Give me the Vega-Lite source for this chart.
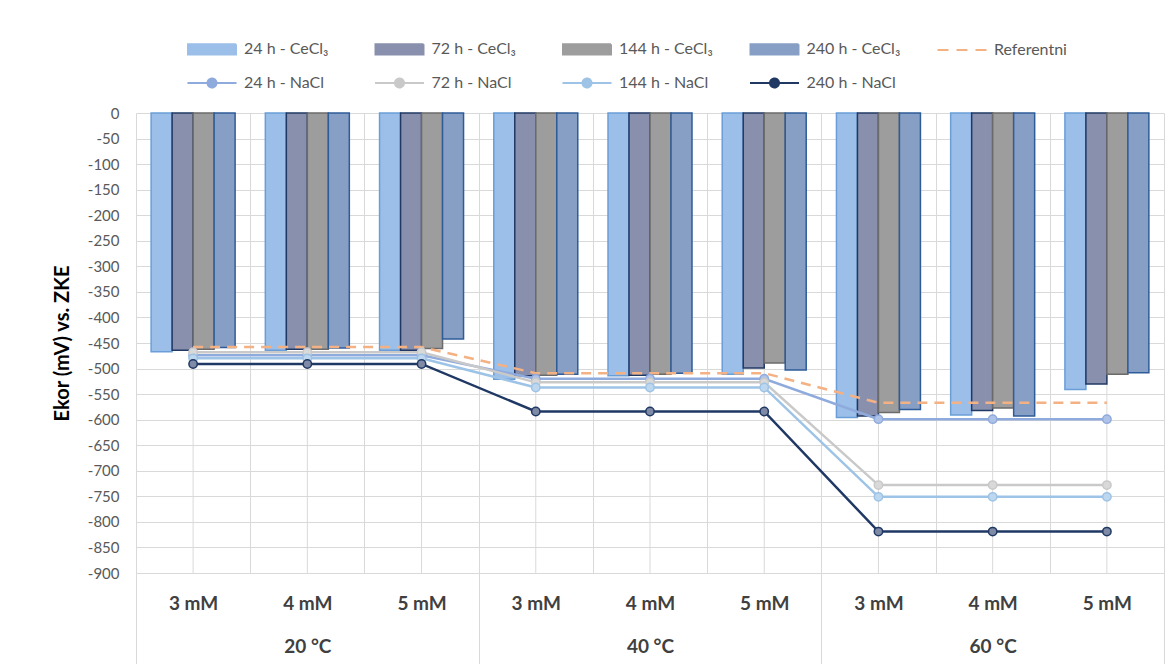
{
  "$schema": "https://vega.github.io/schema/vega-lite/v6.json",
  "width": 1028,
  "height": 460,
  "autosize": {"type": "none"},
  "padding": {"left": 136, "top": 113, "right": 9, "bottom": 91},
  "background": "white",
  "config": {"view": {"stroke": null}, "font": "Lato"},
  "data": {"values": [
    {"cat": "20 °C|3 mM", "series": "24 h - CeCl₃", "kind": "bar", "value": -467},
    {"cat": "20 °C|3 mM", "series": "72 h - CeCl₃", "kind": "bar", "value": -464},
    {"cat": "20 °C|3 mM", "series": "144 h - CeCl₃", "kind": "bar", "value": -462},
    {"cat": "20 °C|3 mM", "series": "240 h - CeCl₃", "kind": "bar", "value": -459},
    {"cat": "20 °C|4 mM", "series": "24 h - CeCl₃", "kind": "bar", "value": -464},
    {"cat": "20 °C|4 mM", "series": "72 h - CeCl₃", "kind": "bar", "value": -462},
    {"cat": "20 °C|4 mM", "series": "144 h - CeCl₃", "kind": "bar", "value": -462},
    {"cat": "20 °C|4 mM", "series": "240 h - CeCl₃", "kind": "bar", "value": -460},
    {"cat": "20 °C|5 mM", "series": "24 h - CeCl₃", "kind": "bar", "value": -464},
    {"cat": "20 °C|5 mM", "series": "72 h - CeCl₃", "kind": "bar", "value": -464},
    {"cat": "20 °C|5 mM", "series": "144 h - CeCl₃", "kind": "bar", "value": -461},
    {"cat": "20 °C|5 mM", "series": "240 h - CeCl₃", "kind": "bar", "value": -442},
    {"cat": "40 °C|3 mM", "series": "24 h - CeCl₃", "kind": "bar", "value": -521},
    {"cat": "40 °C|3 mM", "series": "72 h - CeCl₃", "kind": "bar", "value": -514},
    {"cat": "40 °C|3 mM", "series": "144 h - CeCl₃", "kind": "bar", "value": -513},
    {"cat": "40 °C|3 mM", "series": "240 h - CeCl₃", "kind": "bar", "value": -511},
    {"cat": "40 °C|4 mM", "series": "24 h - CeCl₃", "kind": "bar", "value": -514},
    {"cat": "40 °C|4 mM", "series": "72 h - CeCl₃", "kind": "bar", "value": -513},
    {"cat": "40 °C|4 mM", "series": "144 h - CeCl₃", "kind": "bar", "value": -511},
    {"cat": "40 °C|4 mM", "series": "240 h - CeCl₃", "kind": "bar", "value": -509},
    {"cat": "40 °C|5 mM", "series": "24 h - CeCl₃", "kind": "bar", "value": -511},
    {"cat": "40 °C|5 mM", "series": "72 h - CeCl₃", "kind": "bar", "value": -499},
    {"cat": "40 °C|5 mM", "series": "144 h - CeCl₃", "kind": "bar", "value": -489},
    {"cat": "40 °C|5 mM", "series": "240 h - CeCl₃", "kind": "bar", "value": -503},
    {"cat": "60 °C|3 mM", "series": "24 h - CeCl₃", "kind": "bar", "value": -596},
    {"cat": "60 °C|3 mM", "series": "72 h - CeCl₃", "kind": "bar", "value": -593},
    {"cat": "60 °C|3 mM", "series": "144 h - CeCl₃", "kind": "bar", "value": -586},
    {"cat": "60 °C|3 mM", "series": "240 h - CeCl₃", "kind": "bar", "value": -580},
    {"cat": "60 °C|4 mM", "series": "24 h - CeCl₃", "kind": "bar", "value": -591},
    {"cat": "60 °C|4 mM", "series": "72 h - CeCl₃", "kind": "bar", "value": -582},
    {"cat": "60 °C|4 mM", "series": "144 h - CeCl₃", "kind": "bar", "value": -577},
    {"cat": "60 °C|4 mM", "series": "240 h - CeCl₃", "kind": "bar", "value": -593},
    {"cat": "60 °C|5 mM", "series": "24 h - CeCl₃", "kind": "bar", "value": -541},
    {"cat": "60 °C|5 mM", "series": "72 h - CeCl₃", "kind": "bar", "value": -530},
    {"cat": "60 °C|5 mM", "series": "144 h - CeCl₃", "kind": "bar", "value": -511},
    {"cat": "60 °C|5 mM", "series": "240 h - CeCl₃", "kind": "bar", "value": -508},
    {"cat": "20 °C|3 mM", "series": "Referentni", "kind": "ref", "value": -458},
    {"cat": "20 °C|4 mM", "series": "Referentni", "kind": "ref", "value": -458},
    {"cat": "20 °C|5 mM", "series": "Referentni", "kind": "ref", "value": -458},
    {"cat": "40 °C|3 mM", "series": "Referentni", "kind": "ref", "value": -509},
    {"cat": "40 °C|4 mM", "series": "Referentni", "kind": "ref", "value": -509},
    {"cat": "40 °C|5 mM", "series": "Referentni", "kind": "ref", "value": -509},
    {"cat": "60 °C|3 mM", "series": "Referentni", "kind": "ref", "value": -567},
    {"cat": "60 °C|4 mM", "series": "Referentni", "kind": "ref", "value": -567},
    {"cat": "60 °C|5 mM", "series": "Referentni", "kind": "ref", "value": -567},
    {"cat": "20 °C|3 mM", "series": "24 h - NaCl", "kind": "line", "value": -474},
    {"cat": "20 °C|4 mM", "series": "24 h - NaCl", "kind": "line", "value": -474},
    {"cat": "20 °C|5 mM", "series": "24 h - NaCl", "kind": "line", "value": -474},
    {"cat": "40 °C|3 mM", "series": "24 h - NaCl", "kind": "line", "value": -520},
    {"cat": "40 °C|4 mM", "series": "24 h - NaCl", "kind": "line", "value": -520},
    {"cat": "40 °C|5 mM", "series": "24 h - NaCl", "kind": "line", "value": -520},
    {"cat": "60 °C|3 mM", "series": "24 h - NaCl", "kind": "line", "value": -599},
    {"cat": "60 °C|4 mM", "series": "24 h - NaCl", "kind": "line", "value": -599},
    {"cat": "60 °C|5 mM", "series": "24 h - NaCl", "kind": "line", "value": -599},
    {"cat": "20 °C|3 mM", "series": "72 h - NaCl", "kind": "line", "value": -468},
    {"cat": "20 °C|4 mM", "series": "72 h - NaCl", "kind": "line", "value": -468},
    {"cat": "20 °C|5 mM", "series": "72 h - NaCl", "kind": "line", "value": -468},
    {"cat": "40 °C|3 mM", "series": "72 h - NaCl", "kind": "line", "value": -527},
    {"cat": "40 °C|4 mM", "series": "72 h - NaCl", "kind": "line", "value": -527},
    {"cat": "40 °C|5 mM", "series": "72 h - NaCl", "kind": "line", "value": -527},
    {"cat": "60 °C|3 mM", "series": "72 h - NaCl", "kind": "line", "value": -728},
    {"cat": "60 °C|4 mM", "series": "72 h - NaCl", "kind": "line", "value": -728},
    {"cat": "60 °C|5 mM", "series": "72 h - NaCl", "kind": "line", "value": -728},
    {"cat": "20 °C|3 mM", "series": "144 h - NaCl", "kind": "line", "value": -480},
    {"cat": "20 °C|4 mM", "series": "144 h - NaCl", "kind": "line", "value": -480},
    {"cat": "20 °C|5 mM", "series": "144 h - NaCl", "kind": "line", "value": -480},
    {"cat": "40 °C|3 mM", "series": "144 h - NaCl", "kind": "line", "value": -537},
    {"cat": "40 °C|4 mM", "series": "144 h - NaCl", "kind": "line", "value": -537},
    {"cat": "40 °C|5 mM", "series": "144 h - NaCl", "kind": "line", "value": -537},
    {"cat": "60 °C|3 mM", "series": "144 h - NaCl", "kind": "line", "value": -751},
    {"cat": "60 °C|4 mM", "series": "144 h - NaCl", "kind": "line", "value": -751},
    {"cat": "60 °C|5 mM", "series": "144 h - NaCl", "kind": "line", "value": -751},
    {"cat": "20 °C|3 mM", "series": "240 h - NaCl", "kind": "line", "value": -491},
    {"cat": "20 °C|4 mM", "series": "240 h - NaCl", "kind": "line", "value": -491},
    {"cat": "20 °C|5 mM", "series": "240 h - NaCl", "kind": "line", "value": -491},
    {"cat": "40 °C|3 mM", "series": "240 h - NaCl", "kind": "line", "value": -584},
    {"cat": "40 °C|4 mM", "series": "240 h - NaCl", "kind": "line", "value": -584},
    {"cat": "40 °C|5 mM", "series": "240 h - NaCl", "kind": "line", "value": -584},
    {"cat": "60 °C|3 mM", "series": "240 h - NaCl", "kind": "line", "value": -819},
    {"cat": "60 °C|4 mM", "series": "240 h - NaCl", "kind": "line", "value": -819},
    {"cat": "60 °C|5 mM", "series": "240 h - NaCl", "kind": "line", "value": -819}
  ]},
  "encoding": {
    "x": {
      "field": "cat", "type": "nominal", "sort": null,
      "scale": {"domain": ["20 °C|3 mM","20 °C|4 mM","20 °C|5 mM","40 °C|3 mM","40 °C|4 mM","40 °C|5 mM","60 °C|3 mM","60 °C|4 mM","60 °C|5 mM"], "paddingInner": 0, "paddingOuter": 0},
      "axis": {
        "title": null, "domain": false,
        "tickBand": "extent", "ticks": true, "tickSize": 91, "tickColor": "#D9D9D9", "tickWidth": 1,
        "tickOpacity": {"condition": {"test": "datum.extra || indexof(datum.value, '5 mM') >= 0", "value": 1}, "value": 0},
        "grid": true, "gridColor": "#D9D9D9", "gridWidth": 1,
        "labelExpr": "datum.extra ? '' : (indexof(datum.value, '4 mM') >= 0 ? [split(datum.value, '|')[1], split(datum.value, '|')[0]] : split(datum.value, '|')[1])",
        "labelFont": "Lato", "labelFontSize": 19, "labelFontWeight": "bold", "labelColor": "#404040",
        "labelPadding": -70, "labelLineHeight": 43, "labelAngle": 0, "labelOverlap": false, "labelBound": false
      }
    },
    "y": {
      "field": "value", "type": "quantitative",
      "scale": {"domain": [-900, 0], "nice": false, "zero": false},
      "axis": {
        "values": [0,-50,-100,-150,-200,-250,-300,-350,-400,-450,-500,-550,-600,-650,-700,-750,-800,-850,-900],
        "labelExpr": "'' + datum.value",
        "domain": false, "ticks": false, "grid": true, "gridColor": "#D9D9D9", "gridWidth": 1,
        "labelFont": "Lato", "labelFontSize": 15, "labelColor": "#595959", "labelPadding": 17,
        "title": "Ekor (mV) vs. ZKE", "titleFont": "Lato", "titleFontSize": 20, "titleFontWeight": "bold", "titleColor": "#000000", "titlePadding": 15
      }
    }
  },
  "layer": [
    {
      "transform": [{"filter": {"field": "kind", "equal": "ref"}}],
      "mark": {"type": "rule", "color": "#D9D9D9", "strokeWidth": 1},
      "encoding": {"y": {"datum": 0}, "y2": {"datum": -900}}
    },
    {
      "transform": [{"filter": {"field": "kind", "equal": "bar"}}],
      "mark": {"type": "bar", "strokeWidth": 1.5, "opacity": 1},
      "encoding": {
        "xOffset": {"field": "series", "type": "nominal", "sort": null, "scale": {"domain": ["24 h - CeCl₃","72 h - CeCl₃","144 h - CeCl₃","240 h - CeCl₃"], "paddingInner": 0, "paddingOuter": 0.72}},
        "color": {
          "field": "series", "type": "nominal",
          "scale": {"domain": ["24 h - CeCl₃","72 h - CeCl₃","144 h - CeCl₃","240 h - CeCl₃","Referentni","24 h - NaCl","72 h - NaCl","144 h - NaCl","240 h - NaCl"],
                    "range": ["#9BBFE8","#8990AE","#9D9D9D","#879FC5","#F4B183","#8FAADC","#C9C9C9","#9DC3E6","#203864"]},
          "legend": {
            "title": null, "orient": "none", "legendX": 65, "legendY": -75, "direction": "horizontal",
            "columns": 5, "gridAlign": "all", "columnPadding": 32.5, "rowPadding": 13, "padding": 0,
            "symbolSize": 400, "symbolStrokeWidth": 2, "labelOffset": 21, "labelFont": "Lato", "labelFontSize": 16, "labelColor": "#595959", "labelLimit": 300
          }
        },
        "stroke": {
          "field": "series", "type": "nominal", "legend": null,
          "scale": {"domain": ["24 h - CeCl₃","72 h - CeCl₃","144 h - CeCl₃","240 h - CeCl₃","Referentni","24 h - NaCl","72 h - NaCl","144 h - NaCl","240 h - NaCl"],
                    "range": ["#6A9ED8","#203864","#6B6B6B","#2E5C99","#F4B183","#8FAADC","#C9C9C9","#9DC3E6","#203864"]}
        }
      }
    },
    {
      "transform": [{"filter": {"field": "kind", "equal": "ref"}}],
      "mark": {"type": "line", "strokeDash": [10, 7], "strokeWidth": 2.5},
      "encoding": {
        "color": {
          "field": "series", "type": "nominal",
          "scale": {"domain": ["24 h - CeCl₃","72 h - CeCl₃","144 h - CeCl₃","240 h - CeCl₃","Referentni","24 h - NaCl","72 h - NaCl","144 h - NaCl","240 h - NaCl"],
                    "range": ["#9BBFE8","#8990AE","#9D9D9D","#879FC5","#F4B183","#8FAADC","#C9C9C9","#9DC3E6","#203864"]}
        }
      }
    },
    {
      "transform": [{"filter": {"field": "kind", "equal": "line"}}],
      "mark": {"type": "line", "strokeWidth": 2.5},
      "encoding": {
        "color": {
          "field": "series", "type": "nominal",
          "scale": {"domain": ["24 h - CeCl₃","72 h - CeCl₃","144 h - CeCl₃","240 h - CeCl₃","Referentni","24 h - NaCl","72 h - NaCl","144 h - NaCl","240 h - NaCl"],
                    "range": ["#9BBFE8","#8990AE","#9D9D9D","#879FC5","#F4B183","#8FAADC","#C9C9C9","#9DC3E6","#203864"]}
        }
      }
    },
    {
      "transform": [{"filter": {"field": "kind", "equal": "line"}}],
      "mark": {"type": "point", "shape": "circle", "filled": true, "size": 70, "strokeWidth": 1.5, "opacity": 1},
      "encoding": {
        "fill": {
          "field": "series", "type": "nominal", "legend": null,
          "scale": {"domain": ["24 h - NaCl","72 h - NaCl","144 h - NaCl","240 h - NaCl"], "range": ["#AFC3E8","#D9D9D9","#BDD7EE","#7F8AA6"]}
        },
        "stroke": {
          "field": "series", "type": "nominal", "legend": null,
          "scale": {"domain": ["24 h - CeCl₃","72 h - CeCl₃","144 h - CeCl₃","240 h - CeCl₃","Referentni","24 h - NaCl","72 h - NaCl","144 h - NaCl","240 h - NaCl"],
                    "range": ["#6A9ED8","#203864","#6B6B6B","#2E5C99","#F4B183","#8FAADC","#C9C9C9","#9DC3E6","#203864"]}
        }
      }
    },
    {
      "transform": [{"filter": {"field": "kind", "equal": "legendonly"}}],
      "mark": {"type": "point", "filled": true, "opacity": 1},
      "encoding": {
        "color": {
          "field": "series", "type": "nominal",
          "scale": {"domain": ["24 h - CeCl₃","72 h - CeCl₃","144 h - CeCl₃","240 h - CeCl₃","Referentni","24 h - NaCl","72 h - NaCl","144 h - NaCl","240 h - NaCl"],
                    "range": ["#9BBFE8","#8990AE","#9D9D9D","#879FC5","#F4B183","#8FAADC","#C9C9C9","#9DC3E6","#203864"]}
        },
        "shape": {
          "field": "series", "type": "nominal",
          "scale": {"domain": ["24 h - CeCl₃","72 h - CeCl₃","144 h - CeCl₃","240 h - CeCl₃","Referentni","24 h - NaCl","72 h - NaCl","144 h - NaCl","240 h - NaCl"],
                    "range": ["M-2.4,-0.52H2.4V0.52H-2.4Z","M-2.4,-0.52H2.4V0.52H-2.4Z","M-2.4,-0.52H2.4V0.52H-2.4Z","M-2.4,-0.52H2.4V0.52H-2.4Z","M-2.45,0H2.45","M-2.45,0H-0.45M0.45,0H2.45M0.45,0A0.45,0.45 0 1 1 -0.45,0A0.45,0.45 0 1 1 0.45,0Z","M-2.45,0H-0.45M0.45,0H2.45M0.45,0A0.45,0.45 0 1 1 -0.45,0A0.45,0.45 0 1 1 0.45,0Z","M-2.45,0H-0.45M0.45,0H2.45M0.45,0A0.45,0.45 0 1 1 -0.45,0A0.45,0.45 0 1 1 0.45,0Z","M-2.45,0H-0.45M0.45,0H2.45M0.45,0A0.45,0.45 0 1 1 -0.45,0A0.45,0.45 0 1 1 0.45,0Z"]},
          "legend": {"title": null}
        },
        "strokeDash": {
          "field": "series", "type": "nominal",
          "scale": {"domain": ["24 h - CeCl₃","72 h - CeCl₃","144 h - CeCl₃","240 h - CeCl₃","Referentni","24 h - NaCl","72 h - NaCl","144 h - NaCl","240 h - NaCl"],
                    "range": [[1,0],[1,0],[1,0],[1,0],[11,8],[1,0],[1,0],[1,0],[1,0]]},
          "legend": {"title": null}
        }
      }
    }
  ]
}
